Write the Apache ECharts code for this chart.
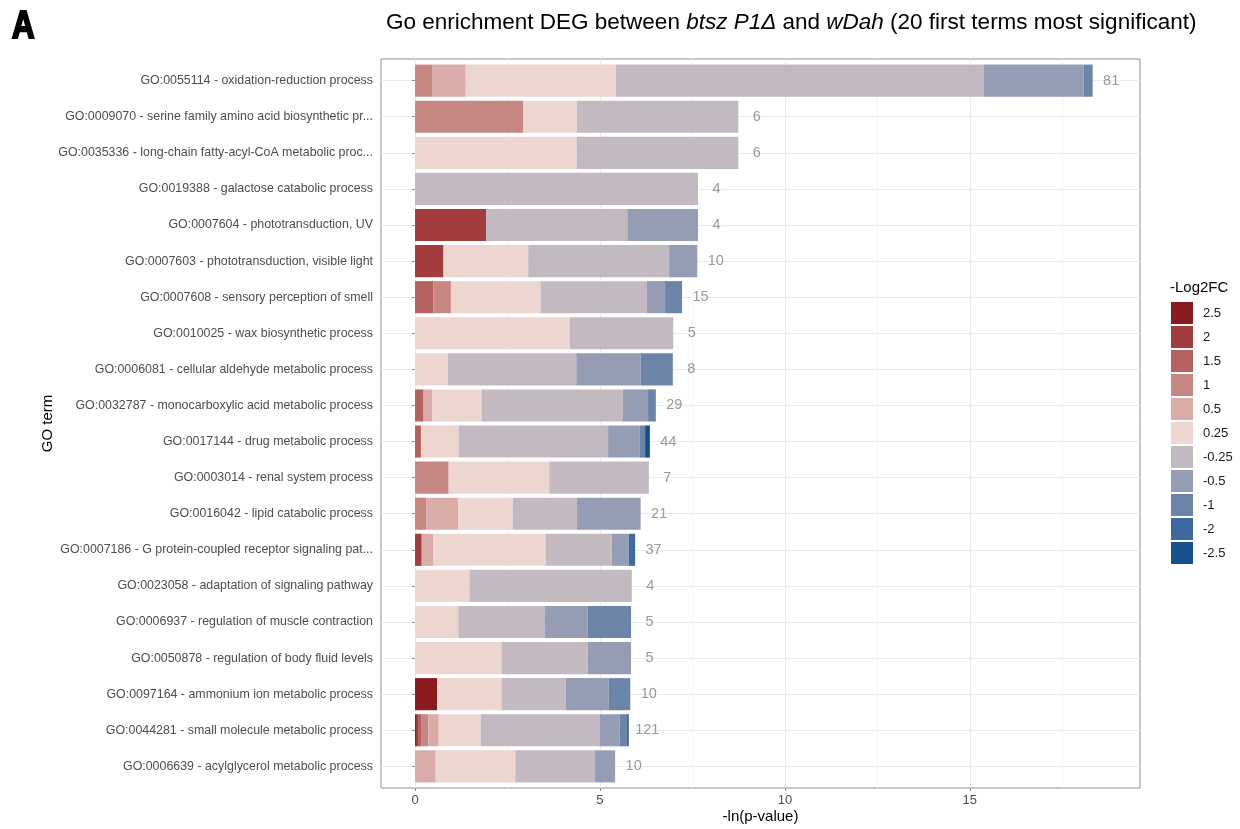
<!DOCTYPE html>
<html><head><meta charset="utf-8">
<script src="https://cdn.jsdelivr.net/npm/echarts@6/dist/echarts.min.js"></script>
<style>html,body{margin:0;padding:0;background:#fff}#c{width:1240px;height:829px}</style>
</head><body><div id="c"></div>
<script>
const categories = [
  'GO:0055114 - oxidation-reduction process',
  'GO:0009070 - serine family amino acid biosynthetic pr...',
  'GO:0035336 - long-chain fatty-acyl-CoA metabolic proc...',
  'GO:0019388 - galactose catabolic process',
  'GO:0007604 - phototransduction, UV',
  'GO:0007603 - phototransduction, visible light',
  'GO:0007608 - sensory perception of smell',
  'GO:0010025 - wax biosynthetic process',
  'GO:0006081 - cellular aldehyde metabolic process',
  'GO:0032787 - monocarboxylic acid metabolic process',
  'GO:0017144 - drug metabolic process',
  'GO:0003014 - renal system process',
  'GO:0016042 - lipid catabolic process',
  'GO:0007186 - G protein-coupled receptor signaling pat...',
  'GO:0023058 - adaptation of signaling pathway',
  'GO:0006937 - regulation of muscle contraction',
  'GO:0050878 - regulation of body fluid levels',
  'GO:0097164 - ammonium ion metabolic process',
  'GO:0044281 - small molecule metabolic process',
  'GO:0006639 - acylglycerol metabolic process'
];
const geneCounts = [81, 6, 6, 4, 4, 10, 15, 5, 8, 29, 44, 7, 21, 37, 4, 5, 5, 10, 121, 10];
const legendNames = ['2.5', '2', '1.5', '1', '0.5', '0.25', '-0.25', '-0.5', '-1', '-2', '-2.5'];
const legendColors = ['#8b1a1e', '#a33c3c', '#b5615f', '#c68783', '#d9aca7', '#eed6d0', '#c3b9c1', '#959db4', '#6b84a8', '#3f67a0', '#16508e'];

// segment widths (-ln p share) per -Log2FC class, one value per GO term (top to bottom)
const segP25  = [0, 0, 0, 0, 0, 0, 0, 0, 0, 0, 0, 0, 0, 0, 0, 0, 0, 0.60, 0.05, 0];
const segP2   = [0, 0, 0, 0, 1.92, 0.77, 0, 0, 0, 0, 0, 0, 0, 0.18, 0, 0, 0, 0, 0.05, 0];
const segP15  = [0, 0, 0, 0, 0, 0, 0.50, 0, 0, 0.23, 0.16, 0, 0, 0, 0, 0, 0, 0, 0.08, 0];
const segP1   = [0.46, 2.93, 0, 0, 0, 0, 0.47, 0, 0, 0, 0, 0.91, 0.30, 0, 0, 0, 0, 0, 0.18, 0];
const segP05  = [0.91, 0, 0, 0, 0, 0, 0, 0, 0, 0.24, 0, 0, 0.87, 0.32, 0, 0, 0, 0, 0.28, 0.56];
const segP025 = [4.06, 1.45, 4.37, 0, 0, 2.29, 2.42, 4.19, 0.89, 1.34, 1.02, 2.72, 1.47, 3.04, 1.47, 1.17, 2.34, 1.74, 1.14, 2.15];
const segM025 = [9.95, 4.36, 4.37, 7.65, 3.82, 3.81, 2.88, 2.79, 3.47, 3.81, 4.04, 2.69, 1.74, 1.78, 4.39, 2.33, 2.33, 1.74, 3.22, 2.15];
const segM05  = [2.70, 0, 0, 0, 1.91, 0.76, 0.49, 0, 1.74, 0.68, 0.85, 0, 1.72, 0.46, 0, 1.17, 1.17, 1.16, 0.53, 0.55];
const segM1   = [0.24, 0, 0, 0, 0, 0, 0.46, 0, 0.87, 0.21, 0.15, 0, 0, 0, 0, 1.17, 0, 0.58, 0.20, 0];
const segM2   = [0, 0, 0, 0, 0, 0, 0, 0, 0, 0, 0, 0, 0, 0.17, 0, 0, 0, 0, 0.05, 0];
const segM25  = [0, 0, 0, 0, 0, 0, 0, 0, 0, 0, 0.13, 0, 0, 0, 0, 0, 0, 0, 0, 0];

const majorTicks = [0, 5, 10, 15];
const minorTicks = [2.5, 7.5, 12.5, 17.5];

const segments = [segP25, segP2, segP15, segP1, segP05, segP025, segM025, segM05, segM1, segM2, segM25];
const totals = categories.map((c, i) => segments.reduce((s, arr) => s + arr[i], 0));

const FONT = "'Liberation Sans', Arial, Helvetica, sans-serif";
const XMIN = -0.92, XMAX = 19.6;
const panel = {left: 381, top: 59, width: 759, height: 729};
const band = panel.height / 20.2;

const chart = echarts.init(document.getElementById('c'), null, {renderer: 'canvas'});

const series = [{
  type: 'line', xAxisIndex: 0, yAxisIndex: 0, data: [[0, -1]], symbol: 'none',
  lineStyle: {opacity: 0}, silent: true, z: 0, zlevel: 0,
  markLine: {
    z: 0, silent: true, symbol: 'none', label: {show: false},
    lineStyle: {color: '#f4f4f4', width: 1, type: 'solid'},
    emphasis: {disabled: true},
    data: minorTicks.map(v => ({xAxis: v}))
  }
}];
legendNames.forEach((name, k) => {
  series.push({
    name: name, type: 'bar', stack: 'go', xAxisIndex: 1, yAxisIndex: 1,
    barCategoryGap: '11%', data: segments[k],
    itemStyle: {color: legendColors[k]},
    emphasis: {disabled: true}, silent: true, z: 6
  });
});
series.push({
  type: 'scatter', xAxisIndex: 1, yAxisIndex: 1, symbolSize: 0, silent: true, z: 7,
  data: totals.map((t, i) => [t + 0.5, i]),
  label: {show: true, position: 'inside', formatter: p => String(geneCounts[p.dataIndex]),
    color: '#7f7f7f', fontSize: 14.5, fontFamily: FONT}
});

chart.setOption({
  animation: false,
  backgroundColor: '#ffffff',
  title: {
    left: 381, top: 6,
    text: '{n|Go enrichment DEG between }{i|btsz P1Δ}{n| and }{i|wDah}{n| (20 first terms most significant)}',
    textStyle: {
      fontSize: 22.5, fontFamily: FONT, fontWeight: 'normal', color: '#000',
      rich: {
        n: {fontSize: 22.5, fontFamily: FONT, color: '#000'},
        i: {fontSize: 22.5, fontFamily: FONT, color: '#000', fontStyle: 'italic'}
      }
    }
  },
  legend: {
    data: legendNames, orient: 'vertical', left: 1171, top: 302, padding: 0,
    itemWidth: 22, itemHeight: 22, itemGap: 2, icon: 'rect', selectedMode: false,
    textStyle: {fontSize: 13, color: '#1a1a1a', fontFamily: FONT, padding: [0, 0, 0, 5]}
  },
  grid: [
    {left: panel.left, top: panel.top, width: panel.width, height: panel.height,
     show: true, borderColor: '#8f8f8f', borderWidth: 1, backgroundColor: 'transparent'},
    {left: panel.left, top: panel.top + 0.1 * band, width: panel.width, height: 20 * band}
  ],
  xAxis: [
    {gridIndex: 0, type: 'value', min: XMIN, max: XMAX,
     axisLine: {show: false},
     axisTick: {show: true, length: 3, customValues: majorTicks, lineStyle: {color: '#8f8f8f'}},
     axisLabel: {customValues: majorTicks, color: '#4d4d4d', fontSize: 13, fontFamily: FONT, margin: 6},
     splitLine: {show: true, lineStyle: {color: '#ebebeb', width: 1}},
     minorSplitLine: {show: false}},
    {gridIndex: 1, type: 'value', min: XMIN, max: XMAX, show: false,
     splitLine: {show: false}}
  ],
  yAxis: [
    {gridIndex: 0, type: 'value', min: 0, max: 1, show: false, splitLine: {show: false}},
    {gridIndex: 1, type: 'category', data: categories, inverse: true,
     axisLine: {show: false},
     axisTick: {show: true, alignWithLabel: true, length: 3, lineStyle: {color: '#8f8f8f'}},
     axisLabel: {color: '#4d4d4d', fontSize: 12.4, fontFamily: FONT, margin: 8},
     splitLine: {show: true, alignWithLabel: true, lineStyle: {color: '#ebebeb', width: 1}}}
  ],
  graphic: [
    {type: 'text', x: 12, y: 8, scaleX: 0.8,
      style: {text: 'A', fontSize: 39, fontWeight: 'bold', fontFamily: FONT, fill: '#000',
      stroke: '#000', lineWidth: 2.2, textAlign: 'left', textVerticalAlign: 'top'}},
    {type: 'text', x: 1170, y: 288, style: {text: '-Log2FC', fontSize: 15, fontFamily: FONT,
      fill: '#000', textVerticalAlign: 'middle', textAlign: 'left'}},
    {type: 'text', x: panel.left + panel.width / 2, y: 817, style: {text: '-ln(p-value)', fontSize: 15,
      fontFamily: FONT, fill: '#000', textAlign: 'center', textVerticalAlign: 'middle'}},
    {type: 'text', x: 48, y: panel.top + panel.height / 2, rotation: Math.PI / 2,
      style: {text: 'GO term', fontSize: 15, fontFamily: FONT, fill: '#000',
      textAlign: 'center', textVerticalAlign: 'middle'}}
  ],
  series: series
});
</script></body></html>
